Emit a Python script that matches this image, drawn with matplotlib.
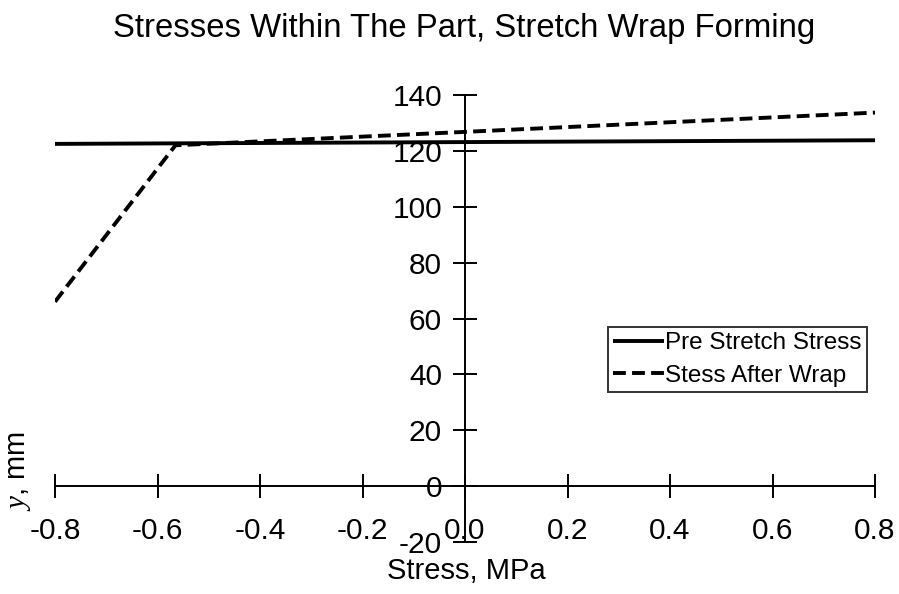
import matplotlib
matplotlib.use("Agg")
import matplotlib.pyplot as plt

plt.rcParams['font.family'] = ['Liberation Sans', 'DejaVu Sans']
plt.rcParams['mathtext.fontset'] = 'custom'
plt.rcParams['mathtext.it'] = 'Liberation Serif:italic'

# Pre-stretch stress (flat line) and stress after wrapping (kinked dashed line)
pre_x = [-0.8, 0.8]
pre_y = [122.5, 123.8]
wrap_x = [-0.8, -0.565, 0.0, 0.8]
wrap_y = [66.0, 122.0, 126.8, 133.7]

x_ticks = [-0.8, -0.6, -0.4, -0.2, 0.0, 0.2, 0.4, 0.6, 0.8]
y_ticks = [-20, 0, 20, 40, 60, 80, 100, 120, 140]

W, H = 899, 594
fig = plt.figure(figsize=(W / 100, H / 100), dpi=100)
ax = fig.add_axes([55 / W, 1 - 542 / H, (875 - 55) / W, (542 - 95) / H])

ax.plot(pre_x, pre_y, color='black', lw=2.8, solid_capstyle='butt',
        label='Pre Stretch Stress')
ax.plot(wrap_x, wrap_y, color='black', lw=2.8, dashes=(3.3, 1.6),
        label='Stess After Wrap')

ax.set_xlim(-0.8, 0.8)
ax.set_ylim(-20, 140)
ax.set_xticks(x_ticks)
ax.set_yticks(y_ticks)
ax.set_xticklabels([f"{v:.1f}" for v in x_ticks])
ax.set_yticklabels([f"{v:d}" for v in y_ticks])

for s in ['top', 'right']:
    ax.spines[s].set_visible(False)
ax.spines['left'].set_position(('data', 0))
ax.spines['bottom'].set_position(('data', 0))
for s in ['left', 'bottom']:
    ax.spines[s].set_linewidth(1.4)

ax.tick_params(axis='both', direction='inout', length=17, width=1.4,
               labelsize=21.5)
ax.tick_params(axis='x', pad=14)
ax.tick_params(axis='y', pad=8)

fig.text(466 / W, 1 - 571 / H, 'Stress, MPa', ha='center', va='center',
         fontsize=21)
fig.text(19 / W, 1 - 471 / H, r'$y$, mm', ha='center', va='center',
         rotation=90, fontsize=21)
fig.text(464 / W, 1 - 29 / H, 'Stresses Within The Part, Stretch Wrap Forming',
         ha='center', va='center', fontsize=23.7)

leg = ax.legend(loc='upper right', bbox_to_anchor=(867 / W, 1 - 327 / H),
                bbox_transform=fig.transFigure, fontsize=17.5, frameon=True,
                fancybox=False, handlelength=2.1, handletextpad=0.05,
                borderpad=0.22, labelspacing=0.42, borderaxespad=0)
leg.get_frame().set_edgecolor('black')
leg.get_frame().set_linewidth(1.4)

fig.savefig('out.png', dpi=100)
